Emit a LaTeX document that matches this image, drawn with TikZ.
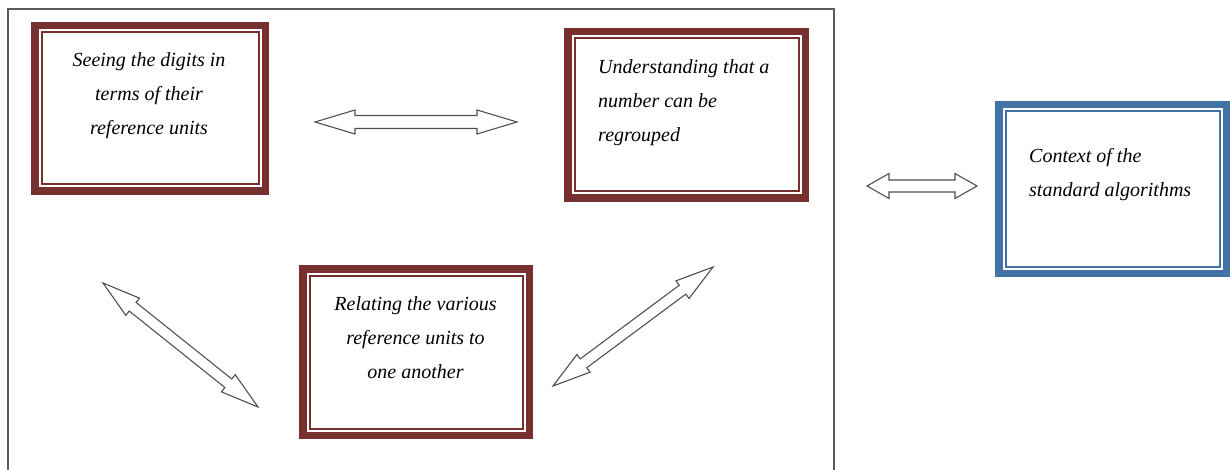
\documentclass[tikz,border=0pt]{standalone}
\usepackage{fontspec}
\setmainfont{Liberation Serif}
\usetikzlibrary{calc}
\definecolor{boxbrown}{RGB}{120,48,46}
\definecolor{boxblue}{RGB}{67,114,165}
\definecolor{arrowgray}{RGB}{80,80,80}
\definecolor{framegray}{RGB}{90,90,90}
\tikzset{
  boxnode/.style={draw=#1, line width=7.5pt, outer sep=0pt, inner sep=0pt, fill=white},
  boxtext/.style={font=\itshape\fontsize{20}{34}\selectfont, inner sep=0pt, text=black},
  arrowstyle/.style={draw=arrowgray, fill=white, line width=1.1pt, line join=miter},
  framestyle/.style={draw=framegray, line width=1.2pt}
}
\newcommand\innerframe[2]{\draw[#2, line width=2pt] ($(#1.north west)+(6.75,6.75)$) rectangle ($(#1.south east)+(-6.75,-6.75)$);}
\newcommand\blockarrow[5]{%
 \draw[arrowstyle] (#1) -- ($(#1)!#3!(#2)!#4!90:(#2)$) -- ($(#1)!#3!(#2)!#5!90:(#2)$)
   -- ($(#2)!#3!(#1)!#5!-90:(#1)$) -- ($(#2)!#3!(#1)!#4!-90:(#1)$) -- (#2)
   -- ($(#2)!#3!(#1)!#4!90:(#1)$) -- ($(#2)!#3!(#1)!#5!90:(#1)$)
   -- ($(#1)!#3!(#2)!#5!-90:(#2)$) -- ($(#1)!#3!(#2)!#4!-90:(#2)$) -- cycle;}
\begin{document}
\begin{tikzpicture}[x=1pt, y=-1pt]
\useasboundingbox (0,0) rectangle (1230,470);
\fill[white] (0,0) rectangle (1230,470);
% outer frame (open at the bottom)
\draw[framestyle] (8,470) -- (8,9) -- (834,9) -- (834,470);

% boxes
\node[boxnode=boxbrown, minimum width=230.5pt, minimum height=165.5pt] (b1) at (150,108.5) {};
\innerframe{b1}{boxbrown}
\node[boxnode=boxbrown, minimum width=237.5pt, minimum height=166.5pt] (b2) at (686.5,115) {};
\innerframe{b2}{boxbrown}
\node[boxnode=boxbrown, minimum width=226.5pt, minimum height=166.5pt] (b3) at (416,352) {};
\innerframe{b3}{boxbrown}
\node[boxnode=boxblue, minimum width=227.5pt, minimum height=168.5pt] (b4) at (1112.5,189) {};
\innerframe{b4}{boxblue}

% texts
\node[boxtext, align=center] (t1) at (149,96) {Seeing the digits in\\terms of their\\reference units};
\node[boxtext, align=left, anchor=west] (t2) at (598,103) {Understanding that a\\number can be\\regrouped};
\node[boxtext, align=center] (t3) at (415.5,338) {Relating the various\\reference units to\\one another};
\node[boxtext, align=left, anchor=west] (t4) at (1029,175) {Context of the\\standard algorithms};

% arrow end points
\coordinate (a1s) at (315,122);
\coordinate (a1e) at (517,122);
\coordinate (a2s) at (867,186);
\coordinate (a2e) at (977,186);
\coordinate (a3s) at (103,283);
\coordinate (a3e) at (258,407);
\coordinate (a4s) at (553,386);
\coordinate (a4e) at (713,267);

\blockarrow{a1s}{a1e}{40pt}{12pt}{6.5pt}
\blockarrow{a2s}{a2e}{22pt}{12.5pt}{6pt}
\blockarrow{a3s}{a3e}{38pt}{11pt}{5.5pt}
\blockarrow{a4s}{a4e}{38pt}{11pt}{5.5pt}
\end{tikzpicture}
\end{document}
